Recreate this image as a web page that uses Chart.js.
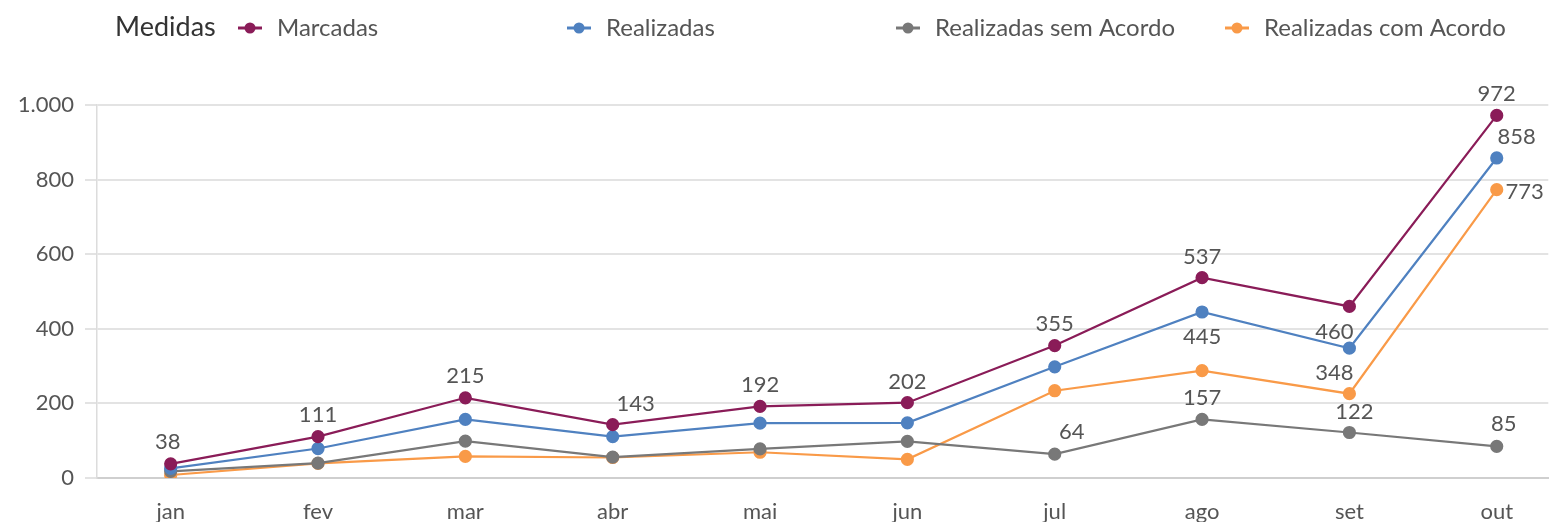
<!DOCTYPE html>
<html>
<head>
<meta charset="utf-8">
<script src="https://cdn.jsdelivr.net/npm/chart.js@4"></script>
<style>
  html, body { margin: 0; padding: 0; background: #fff; }
  #wrap { width: 1556px; height: 522px; }
</style>
</head>
<body>
<div id="wrap"><canvas id="chart"></canvas></div>
<script>
const months = ['jan', 'fev', 'mar', 'abr', 'mai', 'jun', 'jul', 'ago', 'set', 'out'];
const marcadas = [38, 111, 215, 143, 192, 202, 355, 537, 460, 972];
const realizadas = [26, 79, 157, 111, 147, 148, 298, 445, 348, 858];
const semAcordo = [18, 40, 99, 56, 78, 98, 64, 157, 122, 85];
const comAcordo = [8, 39, 58, 55, 69, 50, 234, 288, 226, 773];
const yTicks = [0, 200, 400, 600, 800, 1000];

// which points get a value label, and where it sits relative to the point
const labelPlace = {
    'Marcadas': [[-3, -22], [0, -22], [0, -22], [23, -21], [0, -21], [0, -21], [0, -22], [0, -21], [-15, 25], [0, -22]],
    'Realizadas': [null, null, null, null, null, null, null, [0, 25], [-15, 25], [20, -21]],
    'Realizadas sem Acordo': [null, null, null, null, null, null, [17, -22], [0, -22], [5, -21], [7, -22]],
    'Realizadas com Acordo': [null, null, null, null, null, null, null, null, null, [28, 2]]
};

const FONT = 'Lato, "Noto Sans", sans-serif';

function serie(label, values, color) {
    return {
        label: label,
        data: values.map((v, i) => ({ x: i, y: v })),
        borderColor: color,
        backgroundColor: color,
        borderWidth: 2.2,
        pointRadius: 5.5,
        pointHoverRadius: 5.5,
        fill: false,
        tension: 0
    };
}

const valueLabels = {
    id: 'valueLabels',
    afterDatasetsDraw(chart) {
        const ctx = chart.ctx;
        ctx.save();
        ctx.font = '22px ' + FONT;
        ctx.fillStyle = '#555';
        ctx.textAlign = 'center';
        ctx.textBaseline = 'middle';
        chart.data.datasets.forEach((ds, di) => {
            const place = labelPlace[ds.label];
            chart.getDatasetMeta(di).data.forEach((pt, i) => {
                if (!place || !place[i]) return;
                ctx.fillText(String(ds.data[i].y), pt.x + place[i][0], pt.y + place[i][1]);
            });
        });
        ctx.restore();
    }
};

const topLegend = {
    id: 'topLegend',
    afterDraw(chart) {
        const ctx = chart.ctx;
        ctx.save();
        ctx.textBaseline = 'middle';
        ctx.textAlign = 'left';
        ctx.font = '27px ' + FONT;
        ctx.fillStyle = '#333';
        ctx.fillText('Medidas', 115, 27);
        ctx.font = '24px ' + FONT;
        chart.data.datasets.forEach((ds, i) => {
            const x = 238 + i * 329;
            const y = 28;
            ctx.strokeStyle = ds.borderColor;
            ctx.fillStyle = ds.borderColor;
            ctx.lineWidth = 3;
            ctx.beginPath();
            ctx.moveTo(x, y);
            ctx.lineTo(x + 24, y);
            ctx.stroke();
            ctx.beginPath();
            ctx.arc(x + 12, y, 5.5, 0, Math.PI * 2);
            ctx.fill();
            ctx.fillStyle = '#555';
            ctx.fillText(ds.label, x + 39, y);
        });
        ctx.restore();
    }
};

new Chart(document.getElementById('chart'), {
    type: 'line',
    data: {
        datasets: [
            serie('Marcadas', marcadas, '#8a1c58'),
            serie('Realizadas', realizadas, '#4f81c0'),
            serie('Realizadas sem Acordo', semAcordo, '#787878'),
            serie('Realizadas com Acordo', comAcordo, '#f99a48')
        ]
    },
    options: {
        responsive: true,
        maintainAspectRatio: false,
        animation: false,
        locale: 'pt-BR',
        layout: { padding: { top: 105, right: 0, left: 0, bottom: 0 } },
        plugins: {
            legend: { display: false },
            tooltip: { enabled: false }
        },
        scales: {
            x: {
                type: 'linear',
                min: -0.5,
                max: 9.35,
                afterBuildTicks: s => { s.ticks = months.map((m, i) => ({ value: i })); },
                afterFit: s => { s.height = 44; },
                grid: { display: false },
                border: { color: '#cfcfcf', width: 2 },
                ticks: {
                    padding: 13,
                    color: '#555',
                    font: { family: FONT, size: 22 },
                    callback: v => months[v]
                }
            },
            y: {
                min: 0,
                max: 1000,
                afterBuildTicks: s => { s.ticks = yTicks.map(v => ({ value: v })); },
                afterFit: s => { s.width = 97; },
                grid: { color: '#e3e3e3', lineWidth: 2, tickLength: 12 },
                border: { color: '#dcdcdc', width: 1.5 },
                ticks: {
                    padding: 11,
                    color: '#555',
                    font: { family: FONT, size: 22 },
                    callback: v => v.toLocaleString('pt-BR')
                }
            }
        }
    },
    plugins: [valueLabels, topLegend]
});
</script>
</body>
</html>
